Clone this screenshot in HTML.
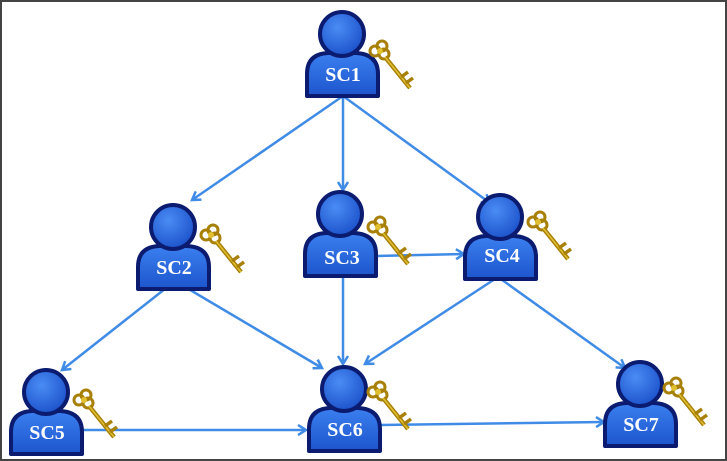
<!DOCTYPE html>
<html><head><style>
html,body{margin:0;padding:0;background:#fff}
svg{display:block}
text{font-family:"Liberation Serif",serif;font-weight:bold;fill:#fff;font-size:20px}
</style></head><body>
<svg width="727" height="461" viewBox="0 0 727 461" xmlns="http://www.w3.org/2000/svg">
<defs>
<radialGradient id="hg" cx="0.4" cy="0.35" r="0.7"><stop offset="0" stop-color="#4a8cf5"/><stop offset="1" stop-color="#1a4fc8"/></radialGradient>
<linearGradient id="bg" x1="0" y1="0" x2="0" y2="1"><stop offset="0" stop-color="#3a7ff0"/><stop offset="1" stop-color="#1d55cc"/></linearGradient>
<marker id="ar" markerWidth="12" markerHeight="12" refX="9" refY="6" orient="auto" markerUnits="userSpaceOnUse"><path d="M1,1 L9,6 L1,11" fill="none" stroke="#3f8be6" stroke-width="2.5"/></marker>
<g id="key">
<circle cx="5" cy="9" r="5" fill="none" stroke="#a88008" stroke-width="3"/>
<circle cx="12" cy="4" r="5" fill="none" stroke="#a88008" stroke-width="3"/>
<circle cx="14" cy="12" r="5" fill="none" stroke="#a88008" stroke-width="3"/>
<circle cx="10" cy="9" r="3" fill="#e0c030"/>
<line x1="15" y1="15" x2="40" y2="46" stroke="#a88008" stroke-width="4.5"/>
<line x1="15" y1="15" x2="40" y2="46" stroke="#e0c030" stroke-width="1.5"/>
<path d="M31 35 l7 -5 M36 41 l7 -5" stroke="#a88008" stroke-width="3.5"/>
</g>
<g id="p">
<path d="M-35 62 L-35 40 Q-35 20 -14 19 L14 19 Q36 20 36 40 L36 62 Z" fill="url(#bg)" stroke="#0b1c70" stroke-width="4" stroke-linejoin="round"/>
<circle cx="0" cy="0" r="22" fill="url(#hg)" stroke="#0b1c70" stroke-width="4"/>
</g>
</defs>
<rect x="1" y="1" width="725" height="459" fill="none" stroke="#444" stroke-width="2"/>
<g stroke="#3f8be6" stroke-width="2.5" fill="none" marker-end="url(#ar)">
<line x1="343" y1="96" x2="192" y2="200"/>
<line x1="343" y1="96" x2="343" y2="190"/>
<line x1="343" y1="96" x2="490" y2="203"/>
<line x1="175" y1="281" x2="62" y2="370"/>
<line x1="175" y1="281" x2="322" y2="368"/>
<line x1="343" y1="277" x2="343" y2="364"/>
<line x1="378" y1="256" x2="464" y2="254"/>
<line x1="498" y1="277" x2="365" y2="364"/>
<line x1="498" y1="277" x2="625" y2="368"/>
<line x1="80" y1="430" x2="306" y2="430"/>
<line x1="380" y1="425" x2="604" y2="422"/>
</g>
<use href="#p" x="342" y="34"/><use href="#key" x="370" y="42"/><text x="343" y="81" text-anchor="middle">SC1</text>
<use href="#p" x="173" y="227"/><use href="#key" x="201" y="226"/><text x="174" y="274" text-anchor="middle">SC2</text>
<use href="#p" x="340" y="214"/><use href="#key" x="368" y="218"/><text x="342" y="264" text-anchor="middle">SC3</text>
<use href="#p" x="500" y="217"/><use href="#key" x="528" y="213"/><text x="502" y="262" text-anchor="middle">SC4</text>
<use href="#p" x="46" y="392"/><use href="#key" x="74" y="391"/><text x="47" y="439" text-anchor="middle">SC5</text>
<use href="#p" x="344" y="389"/><use href="#key" x="368" y="383"/><text x="345" y="436" text-anchor="middle">SC6</text>
<use href="#p" x="640" y="384"/><use href="#key" x="664" y="379"/><text x="641" y="431" text-anchor="middle">SC7</text>
</svg>
</body></html>
